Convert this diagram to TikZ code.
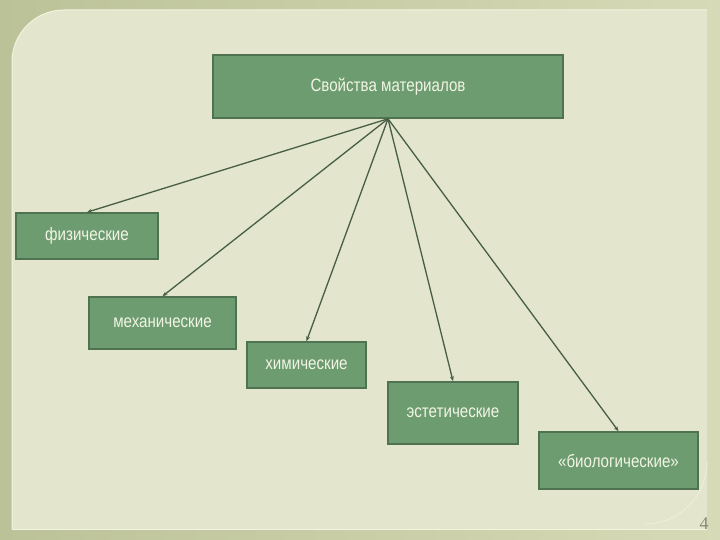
\documentclass[tikz,border=0pt]{standalone}
\usepackage{fontspec}
\setmainfont{Liberation Sans}
\newfontfamily\narrowfont[FakeStretch=0.84]{Liberation Sans}
\newfontfamily\numfont{Liberation Serif}
\usetikzlibrary{arrows.meta}
\definecolor{outerL}{HTML}{BCC298}
\definecolor{outerR}{HTML}{D6DAB6}
\definecolor{panelbg}{HTML}{E3E5CD}
\definecolor{paneledge}{HTML}{F3F4E0}
\definecolor{boxfill}{HTML}{6C9C6F}
\definecolor{boxline}{HTML}{4F7350}
\definecolor{linkcol}{HTML}{465F45}
\definecolor{txtcol}{HTML}{F2F4E4}
\definecolor{numcol}{HTML}{868A74}
\tikzset{
  propbox/.style={draw=boxline, line width=1.6pt, fill=boxfill, text=txtcol,
    font=\narrowfont\fontsize{18}{20}\selectfont, inner sep=0pt},
  link/.style={draw=linkcol, line width=1.3pt, -{Stealth[length=5pt,width=4pt]}}
}
\begin{document}
\begin{tikzpicture}[x=1pt,y=-1pt]
\useasboundingbox (0,0) rectangle (720,540);
\shade[left color=outerL, right color=outerR] (0,0) rectangle (720,540);
% panel
\fill[panelbg] (12,529) [rounded corners=52pt] -- (12,10) [sharp corners] -- (707,10) -- (707,529) -- cycle;
\draw[paneledge, line width=1pt] (12,529) [rounded corners=52pt] -- (12,10) [sharp corners] -- (707,10);
\draw[paneledge, line width=1pt] (12,529) -- (707,529);
\draw[paneledge!60!panelbg, line width=1pt] (707,462) arc[start angle=0, end angle=90, radius=62];
% boxes
\node[propbox, minimum width=350pt, minimum height=63pt] (top) at (388,86.5) {Свойства материалов};
\node[propbox, minimum width=142pt, minimum height=46pt] (fiz) at (87,236) {физические};
\node[propbox, minimum width=147pt, minimum height=52pt] (mech) at (162.5,323) {механические};
\node[propbox, minimum width=119pt, minimum height=46pt] (chem) at (306.5,365) {химические};
\node[propbox, minimum width=130pt, minimum height=62pt] (est) at (453,413) {эстетические};
\node[propbox, minimum width=159pt, minimum height=57pt] (bio) at (618.5,460.5) {«биологические»};
% links
\draw[link] (top.south) -- (fiz.north);
\draw[link] (top.south) -- (mech.north);
\draw[link] (top.south) -- (chem.north);
\draw[link] (top.south) -- (est.north);
\draw[link] (top.south) -- (bio.north);
% page number
\node[font=\numfont\fontsize{18}{20}\selectfont, text=numcol] (pnum) at (704,524) {4};
\end{tikzpicture}
\end{document}
